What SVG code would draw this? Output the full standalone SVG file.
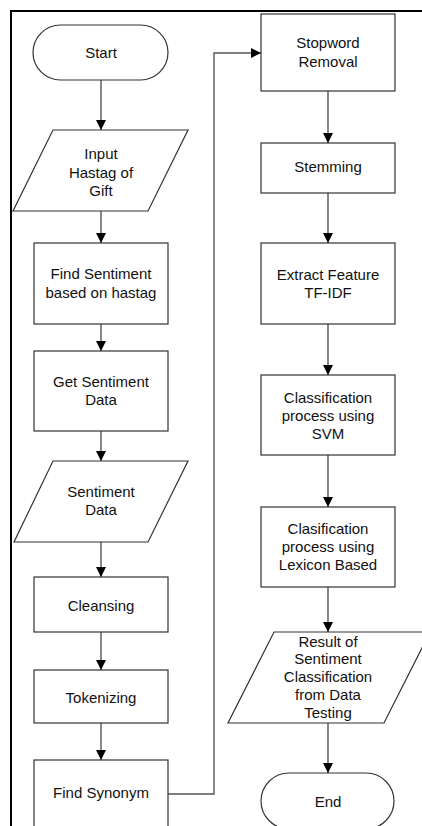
<svg xmlns="http://www.w3.org/2000/svg" width="422" height="826" viewBox="0 0 422 826">
<style>
.s{fill:#fff;stroke:#333;stroke-width:1.2}
.t{font-family:"Liberation Sans",Arial,sans-serif;font-size:15px;fill:#111;text-anchor:middle}
.c{fill:none;stroke:#555;stroke-width:1.4}
</style>
<defs>
<marker id="ah" markerUnits="userSpaceOnUse" markerWidth="10" markerHeight="11" refX="10" refY="5" orient="auto">
<path d="M0,0 L10,5 L0,10 Z" fill="#000"/>
</marker>
</defs>
<rect width="422" height="826" fill="#fff"/>
<path d="M11,826 V11 H422" fill="none" stroke="#000" stroke-width="2"/>
<g id="connectors">
<line class="c" x1="101" y1="80" x2="101" y2="130" marker-end="url(#ah)"/>
<line class="c" x1="101" y1="211" x2="101" y2="243" marker-end="url(#ah)"/>
<line class="c" x1="101" y1="324" x2="101" y2="351" marker-end="url(#ah)"/>
<line class="c" x1="101" y1="431" x2="101" y2="461" marker-end="url(#ah)"/>
<line class="c" x1="101" y1="542" x2="101" y2="577" marker-end="url(#ah)"/>
<line class="c" x1="101" y1="632" x2="101" y2="670" marker-end="url(#ah)"/>
<line class="c" x1="101" y1="723" x2="101" y2="760" marker-end="url(#ah)"/>
<polyline class="c" points="168,794 214,794 214,53 261,53" marker-end="url(#ah)"/>
<line class="c" x1="328" y1="91" x2="328" y2="143" marker-end="url(#ah)"/>
<line class="c" x1="328" y1="193" x2="328" y2="243" marker-end="url(#ah)"/>
<line class="c" x1="328" y1="324" x2="328" y2="375" marker-end="url(#ah)"/>
<line class="c" x1="328" y1="455" x2="328" y2="507" marker-end="url(#ah)"/>
<line class="c" x1="328" y1="587" x2="328" y2="632" marker-end="url(#ah)"/>
<line class="c" x1="328" y1="723" x2="328" y2="773" marker-end="url(#ah)"/>
</g>
<g id="start">
<rect class="s" x="33" y="25" width="135" height="55" rx="27.5"/>
<text class="t" x="101" y="58">Start</text>
</g>
<g id="input">
<polygon class="s" points="53,130 188,130 148,211 13,211"/>
<text class="t" x="101" y="159">Input</text>
<text class="t" x="101" y="178">Hastag of</text>
<text class="t" x="101" y="196">Gift</text>
</g>
<g id="find-sentiment">
<rect class="s" x="34" y="243" width="134" height="81"/>
<text class="t" x="101" y="279">Find Sentiment</text>
<text class="t" x="101" y="298">based on hastag</text>
</g>
<g id="get-sentiment">
<rect class="s" x="34" y="351" width="134" height="80"/>
<text class="t" x="101" y="387">Get Sentiment</text>
<text class="t" x="101" y="405">Data</text>
</g>
<g id="sentiment-data">
<polygon class="s" points="53,461 188,461 148,542 14,542"/>
<text class="t" x="101" y="497">Sentiment</text>
<text class="t" x="101" y="515">Data</text>
</g>
<g id="cleansing">
<rect class="s" x="34" y="577" width="134" height="55"/>
<text class="t" x="101" y="611">Cleansing</text>
</g>
<g id="tokenizing">
<rect class="s" x="34" y="670" width="134" height="53"/>
<text class="t" x="101" y="703">Tokenizing</text>
</g>
<g id="find-synonym">
<rect class="s" x="34" y="760" width="134" height="70"/>
<text class="t" x="101" y="798">Find Synonym</text>
</g>
<g id="stopword">
<rect class="s" x="261" y="14" width="134" height="77"/>
<text class="t" x="328" y="48">Stopword</text>
<text class="t" x="328" y="67">Removal</text>
</g>
<g id="stemming">
<rect class="s" x="261" y="143" width="134" height="50"/>
<text class="t" x="328" y="172">Stemming</text>
</g>
<g id="extract">
<rect class="s" x="261" y="243" width="134" height="81"/>
<text class="t" x="328" y="280">Extract Feature</text>
<text class="t" x="328" y="298">TF-IDF</text>
</g>
<g id="svm">
<rect class="s" x="261" y="375" width="134" height="80"/>
<text class="t" x="328" y="403">Classification</text>
<text class="t" x="328" y="421">process using</text>
<text class="t" x="328" y="439">SVM</text>
</g>
<g id="lexicon">
<rect class="s" x="261" y="507" width="134" height="80"/>
<text class="t" x="328" y="534">Clasification</text>
<text class="t" x="328" y="552">process using</text>
<text class="t" x="328" y="570">Lexicon Based</text>
</g>
<g id="result">
<polygon class="s" points="274,632 430,632 384,723 228,723"/>
<text class="t" x="328" y="647">Result of</text>
<text class="t" x="328" y="664">Sentiment</text>
<text class="t" x="328" y="682">Classification</text>
<text class="t" x="328" y="700">from Data</text>
<text class="t" x="328" y="718">Testing</text>
</g>
<g id="end">
<rect class="s" x="261" y="773" width="133" height="56" rx="28"/>
<text class="t" x="328" y="807">End</text>
</g>
</svg>
